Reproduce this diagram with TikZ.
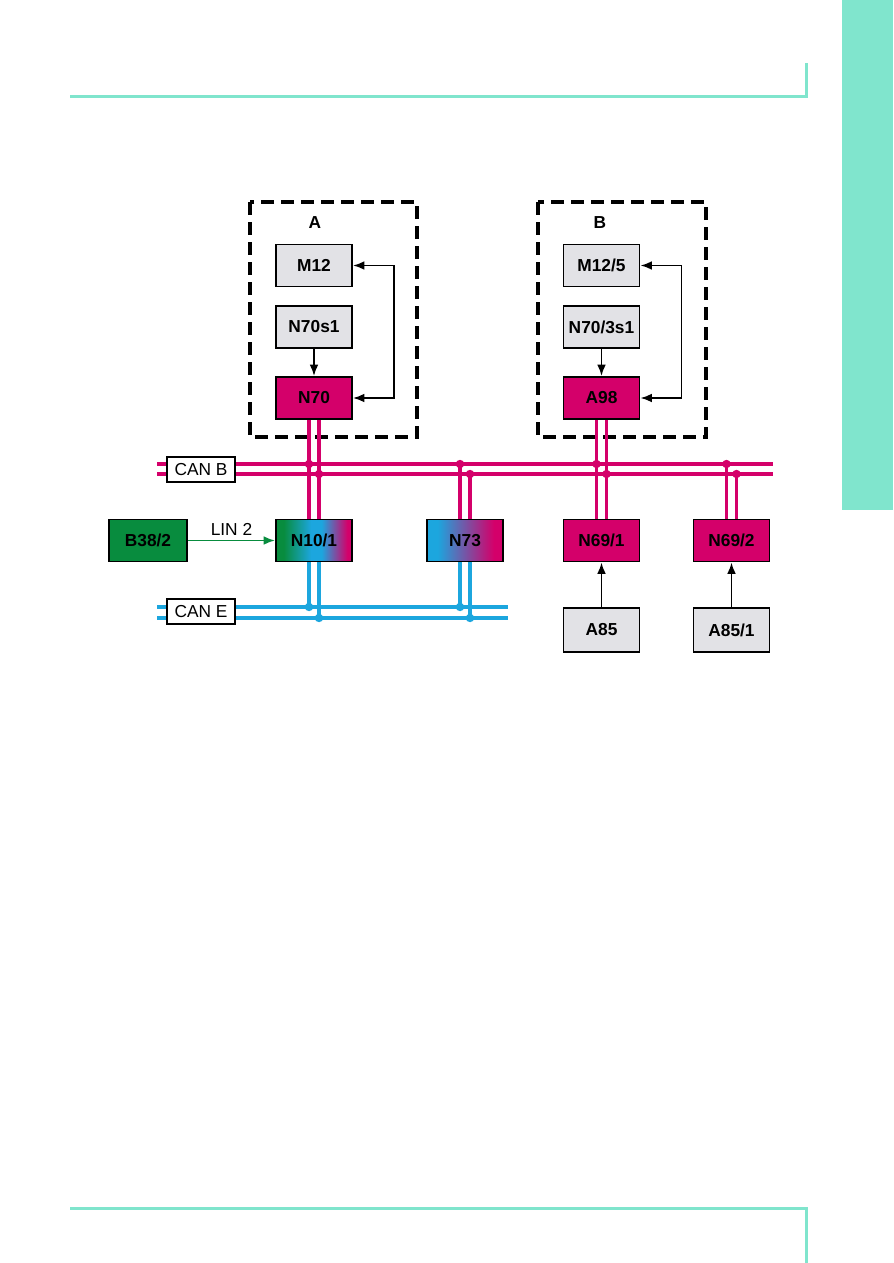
\documentclass[tikz,border=0pt]{standalone}
\usepackage{fontspec}
\setmainfont{Liberation Sans}
\definecolor{PageTeal}{RGB}{128,229,205}
\definecolor{BusMagenta}{RGB}{212,0,106}
\definecolor{BusCyan}{RGB}{28,166,222}
\definecolor{LinGreen}{RGB}{8,140,62}
\definecolor{UnitGrey}{RGB}{226,226,230}
\usetikzlibrary{arrows.meta, positioning, calc}
\pgfdeclarehorizontalshading{greencyanmag}{100bp}{color(0bp)=(LinGreen); color(30bp)=(LinGreen); color(48bp)=(BusCyan); color(55bp)=(BusCyan); color(72bp)=(BusMagenta); color(100bp)=(BusMagenta)}
\pgfdeclarehorizontalshading{cyanmag}{100bp}{color(0bp)=(BusCyan); color(32bp)=(BusCyan); color(69bp)=(BusMagenta); color(100bp)=(BusMagenta)}

\begin{document}
\begin{tikzpicture}[x=0.75pt, y=-0.75pt,
  every node/.style={font=\fontsize{13}{15}\selectfont, align=center},
  >={Latex[length=8.5pt, width=6.5pt]},
  unit/.style={draw=black, line width=1.4pt, minimum width=57pt, minimum height=31.5pt,
    inner sep=0pt, font=\fontsize{13}{15}\selectfont\bfseries},
  grey/.style={unit, fill=UnitGrey},
  ecu/.style={unit, fill=BusMagenta},
  canlabel/.style={draw=black, line width=1.4pt, fill=white, minimum width=51pt,
    minimum height=19pt, inner sep=0pt},
  group/.style={draw=black, line width=2.6pt, dash pattern=on 10pt off 5pt},
  link/.style={line width=1.4pt, ->},
  busB/.style={BusMagenta, line width=2.6pt},
  busE/.style={BusCyan, line width=2.6pt}]
\useasboundingbox (0,0) rectangle (893,1263);

% page frame
\fill[PageTeal] (842,0) rectangle (893,510);
\draw[PageTeal, line width=2.4pt] (70,96.5) -| (806.5,63);
\draw[PageTeal, line width=2.4pt] (70,1208.5) -| (806.5,1263);

% groups A and B
\draw[group] (250,202) rectangle (417,437);
\draw[group] (538,202) rectangle (706,437);
\node[font=\fontsize{13}{15}\selectfont\bfseries] (lblA) at (315,223) {A};
\node[font=\fontsize{13}{15}\selectfont\bfseries] (lblB) at (600,223) {B};

\node[grey] (M12) at (314,265.5) {M12};
\node[grey] (N70s1) at (314,327) {N70s1};
\node[ecu] (N70) at (314,398) {N70};
\node[grey] (M125) at (601.5,265.5) {M12/5};
\node[grey] (N703s1) at (601.5,327) {N70/3s1};
\node[ecu] (A98) at (601.5,398) {A98};

\node[unit, fill=LinGreen, minimum width=58.5pt] (B38) at (148,540.5) {B38/2};
\node[unit, shading=greencyanmag] (N10) at (314,540.5) {N10/1};
\node[unit, shading=cyanmag] (N73) at (465,540.5) {N73};
\node[ecu] (N69a) at (601.5,540.5) {N69/1};
\node[ecu] (N69b) at (731.5,540.5) {N69/2};
\node[grey, minimum height=33pt] (A85) at (601.5,630) {A85};
\node[grey, minimum height=33pt] (A851) at (731.5,630) {A85/1};

\draw[link] (N70s1) -- (N70);
\draw[link] (N703s1) -- (A98);
\draw[link, <->] (M12.east) -- ++(41,0) |- (N70.east);
\draw[link, <->] (M125.east) -- ++(41,0) |- (A98.east);
\draw[link, LinGreen] (B38) -- node[above, text=black] {LIN 2} (N10);
\draw[link] (A85) -- (N69a);
\draw[link] (A851) -- (N69b);

% buses
\coordinate (busB1) at (157,464);
\coordinate (busB2) at (157,474);
\coordinate (busE1) at (157,607);
\coordinate (busE2) at (157,618);
\draw[busB] (busB1) -- (773,464);
\draw[busB] (busB2) -- (773,474);
\draw[busE] (busE1) -- (508,607);
\draw[busE] (busE2) -- (508,618);
\node[canlabel] (canB) at (201,469.5) {CAN B};
\node[canlabel] (canE) at (201,611.5) {CAN E};

\foreach \u/\v in {N70/N10, A98/N69a}{
  \draw[busB] ([xshift=-3.75pt]\u.south) coordinate (l) -- ([xshift=-3.75pt]\v.north);
  \draw[busB] ([xshift=3.75pt]\u.south) coordinate (r) -- ([xshift=3.75pt]\v.north);
  \fill[BusMagenta] (l |- busB1) circle (4.2) (r |- busB2) circle (4.2);
}
\foreach \v in {N73, N69b}{
  \path ([xshift=-3.75pt]\v.north) coordinate (l) ([xshift=3.75pt]\v.north) coordinate (r);
  \draw[busB] (l |- busB1) -- (l);
  \draw[busB] (r |- busB2) -- (r);
  \fill[BusMagenta] (l |- busB1) circle (4.2) (r |- busB2) circle (4.2);
}
\foreach \v in {N10, N73}{
  \path ([xshift=-3.75pt]\v.south) coordinate (l) ([xshift=3.75pt]\v.south) coordinate (r);
  \draw[busE] (l) -- (l |- busE1);
  \draw[busE] (r) -- (r |- busE2);
  \fill[BusCyan] (l |- busE1) circle (4.2) (r |- busE2) circle (4.2);
}
\end{tikzpicture}
\end{document}
